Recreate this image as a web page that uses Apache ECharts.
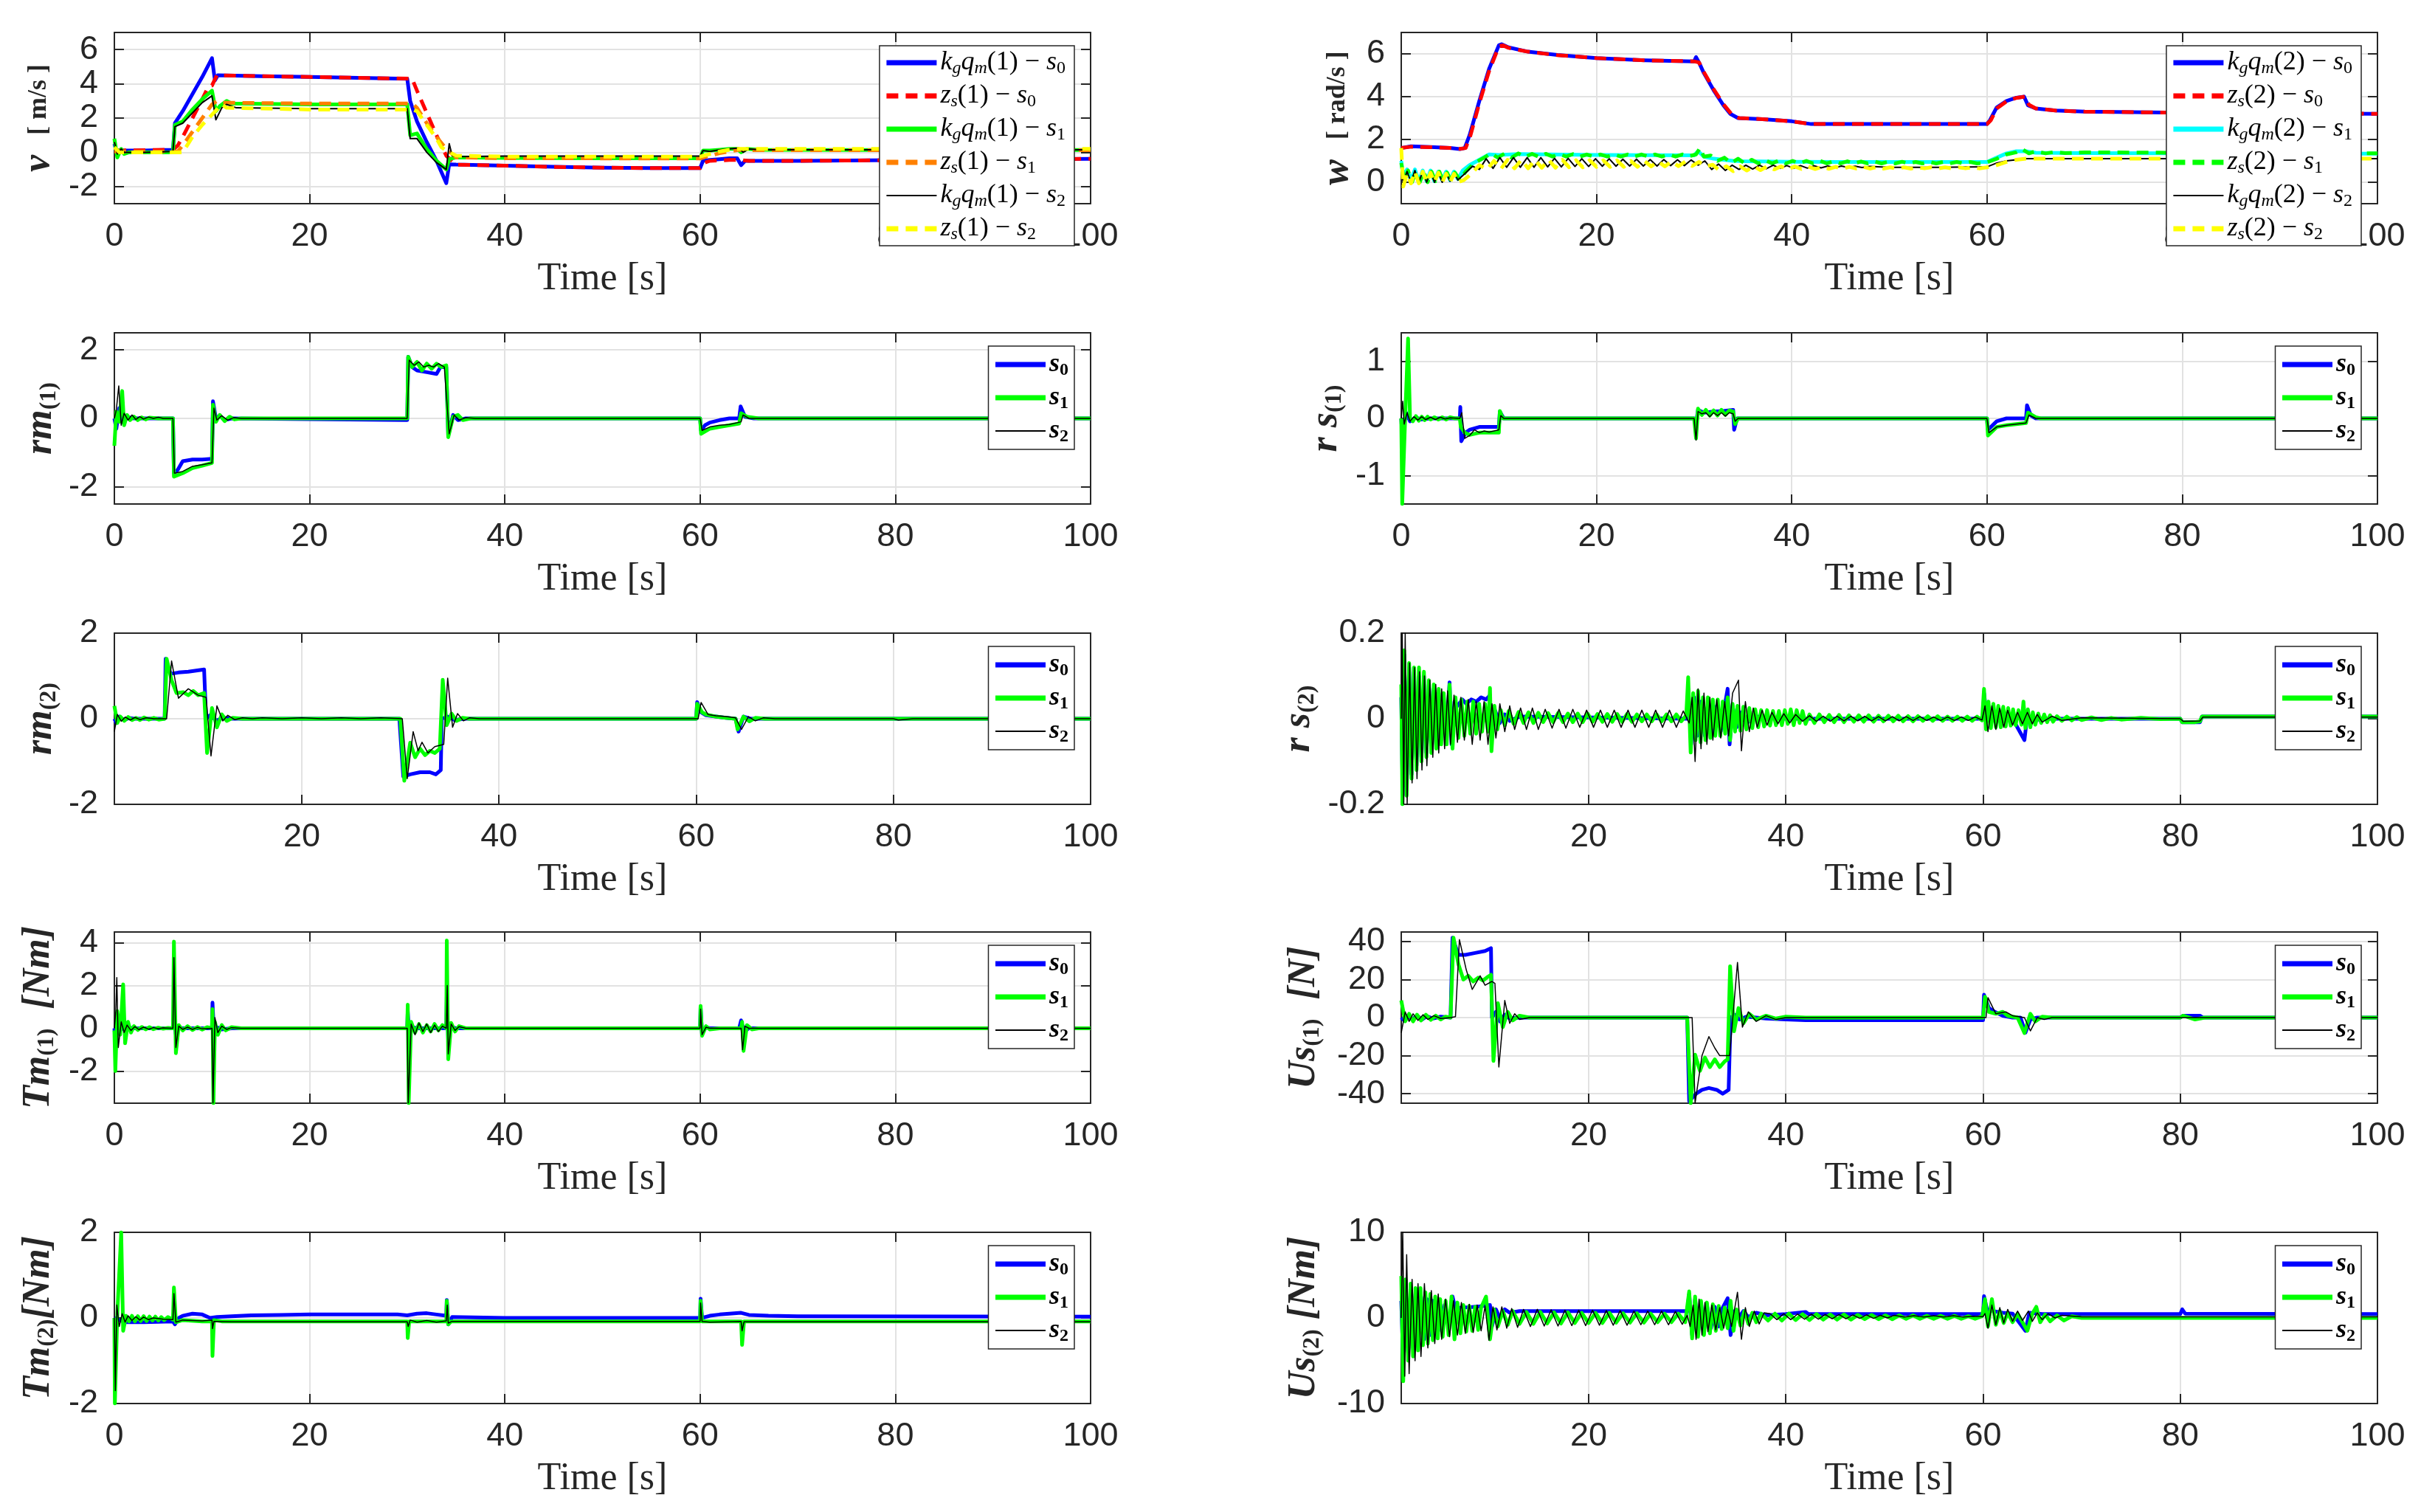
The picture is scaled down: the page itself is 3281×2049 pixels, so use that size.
<!DOCTYPE html>
<html>
<head>
<meta charset="utf-8">
<title>Vehicle response</title>
<script src="https://cdn.jsdelivr.net/npm/echarts@6/dist/echarts.min.js"></script>
<style>
  html, body { margin: 0; padding: 0; background: #fff; }
  #chart { width: 3281px; height: 2049px; }
</style>
</head>
<body>
<div id="chart"></div>
<script>
// ---- tick labels ----
const X_TICKS_FULL = [0, 20, 40, 60, 80, 100];
const X_TICKS_CUT = [20, 40, 60, 80, 100];
const V_TICKS = [-2, 0, 2, 4, 6];
const W_TICKS = [0, 2, 4, 6];
const RM_TICKS = [-2, 0, 2];
const RS1_TICKS = [-1, 0, 1];
const RS2_TICKS = [-0.2, 0, 0.2];
const TM1_TICKS = [-2, 0, 2, 4];
const US1_TICKS = [-40, -20, 0, 20, 40];
const TM2_TICKS = [-2, 0, 2];
const US2_TICKS = [-10, 0, 10];

// ---- v : linear speed ----
const vKq0 = [[0,0.5],[0.2,0.1],[1,0.1],[3,0.1],[6,0.15],[6.2,1.7],[7,2.4],[8,3.4],[9,4.4],[10,5.5],[10.3,4.2],[10.6,4.5],[15,4.45],[20,4.4],[25,4.35],[30,4.3],[30.3,3.0],[31,1.8],[32,0.6],[33,-0.5],[34,-1.8],[34.3,-0.7],[35,-0.72],[40,-0.78],[45,-0.85],[50,-0.9],[55,-0.92],[60,-0.92],[60.3,-0.5],[61,-0.45],[62,-0.4],[63,-0.35],[63.8,-0.35],[64.2,-0.75],[64.6,-0.5],[70,-0.5],[80,-0.46],[90,-0.42],[100,-0.38]];
const vZs0 = [[0,0.1],[6,0.15],[6.5,0.4],[7,0.9],[8,2.0],[9,3.1],[9.6,3.8],[10,3.9],[10.5,4.5],[15,4.45],[20,4.4],[25,4.35],[30.5,4.3],[31,3.6],[32,2.3],[33,1.0],[34,-0.2],[35,-0.72],[40,-0.78],[45,-0.85],[50,-0.9],[55,-0.92],[60,-0.92],[60.5,-0.6],[61,-0.5],[63,-0.45],[64,-0.45],[65,-0.5],[70,-0.5],[80,-0.46],[90,-0.42],[100,-0.38]];
const vKq1 = [[0,0.8],[0.3,-0.3],[0.7,0.2],[1,-0.1],[1.5,0.0],[3,0.0],[6,0.0],[6.2,1.6],[7,1.8],[8,2.5],[9,3.1],[10,3.6],[10.4,2.4],[10.8,2.7],[11.5,3.0],[12,2.85],[20,2.8],[30,2.8],[30.3,1.0],[31,1.1],[32,0.2],[33,-0.5],[34,-1.0],[34.3,-0.4],[35,-0.3],[40,-0.33],[50,-0.35],[60,-0.35],[60.3,0.1],[61,0.1],[62,0.15],[63,0.2],[63.8,0.2],[64.2,0.0],[64.8,0.2],[66,0.15],[80,0.14],[100,0.14]];
const vZs1 = [[0,0.05],[6.5,0.05],[7,0.4],[8,1.2],[9,2.0],[10,2.8],[10.5,3.0],[11,2.9],[20,2.85],[30.5,2.85],[31,2.6],[32,1.7],[33,0.9],[34,0.2],[35,-0.3],[40,-0.35],[60,-0.36],[61,-0.2],[62,-0.05],[63,0.05],[64,0.15],[66,0.12],[100,0.12]];
const vKq2 = [[0,0.6],[0.3,-0.1],[0.7,0.2],[1,0.0],[3,0.0],[6,0.05],[6.2,1.5],[7,1.7],[8,2.3],[9,2.9],[10,3.3],[10.4,1.9],[11,2.6],[11.5,2.8],[12.5,2.6],[20,2.55],[30,2.55],[30.3,0.8],[31,0.8],[32,0.0],[33,-0.6],[34,-1.0],[34.3,0.5],[34.6,-0.2],[35,-0.25],[40,-0.22],[60,-0.22],[60.3,0.1],[61,0.05],[62,0.15],[64,0.25],[64.4,0.0],[65,0.2],[66,0.15],[100,0.15]];
const vZs2 = [[0,0.3],[0.5,0.0],[7,0.0],[8,0.9],[9,1.6],[10,2.2],[11,2.8],[11.5,2.6],[20,2.5],[30.5,2.5],[31,2.4],[32,1.6],[33,0.8],[33.5,0.3],[34,0.1],[35,-0.2],[40,-0.25],[60,-0.25],[61,-0.1],[62,0.05],[63,0.15],[64,0.2],[66,0.2],[100,0.2]];

// ---- w : angular speed ----
const wKq0 = [[0,1.6],[1,1.68],[3,1.65],[5,1.6],[6,1.55],[6.5,1.6],[7,2.2],[8,3.8],[9,5.3],[10,6.4],[10.3,6.45],[11,6.3],[13,6.1],[16,5.95],[20,5.8],[25,5.7],[30,5.65],[30.2,5.85],[30.5,5.6],[31,5.1],[32,4.3],[33,3.6],[33.7,3.2],[34.5,3.0],[37,2.95],[40,2.85],[42,2.72],[50,2.72],[60,2.72],[60.3,2.9],[61,3.5],[62,3.8],[63,3.95],[63.8,4.0],[64.2,3.6],[65,3.45],[67,3.35],[70,3.3],[80,3.25],[100,3.2]];
const wZs0 = [[0,1.6],[1,1.66],[3,1.64],[5,1.6],[6,1.56],[6.6,1.6],[7.1,2.2],[8,3.7],[9,5.2],[10,6.35],[10.4,6.4],[11,6.28],[13,6.1],[16,5.94],[20,5.8],[25,5.7],[30,5.65],[30.5,5.6],[31,5.15],[32,4.35],[33,3.65],[33.8,3.2],[34.6,3.0],[37,2.95],[40,2.85],[42,2.72],[50,2.72],[60,2.72],[60.4,2.9],[61,3.45],[62,3.78],[63,3.94],[63.9,4.0],[64.3,3.62],[65,3.45],[67,3.35],[70,3.3],[80,3.25],[100,3.2]];
const wKq1 = [[0,1.0],[0.2,0.3],[0.6,0.6],[1.0,0.1],[1.4,0.6],[1.8,0.05],[2.2,0.55],[2.6,0.05],[3.0,0.55],[3.4,0.05],[3.8,0.5],[4.2,0.1],[4.6,0.5],[5.0,0.1],[5.4,0.5],[5.8,0.15],[6.3,0.55],[7,0.8],[8,1.05],[9,1.3],[10,1.28],[12,1.32],[15,1.3],[20,1.28],[25,1.27],[30,1.26],[30.4,1.45],[31,1.2],[32,1.1],[33,1.05],[34,1.0],[35,0.98],[40,0.96],[45,0.95],[50,0.95],[55,0.95],[60,0.95],[61,1.15],[62,1.35],[63,1.45],[64,1.45],[65,1.38],[70,1.36],[80,1.35],[100,1.34]];
const wZs1 = [[0,0.9],[0.3,0.1],[0.7,0.55],[1.1,0.0],[1.5,0.5],[1.9,0.0],[2.3,0.5],[2.7,0.0],[3.1,0.5],[3.5,0.05],[3.9,0.5],[4.3,0.05],[4.7,0.45],[5.1,0.05],[5.5,0.45],[6,0.1],[6.6,0.5],[7.5,0.9],[8.5,1.15],[9.2,1.35],[9.9,1.15],[10.6,1.35],[11.3,1.15],[12,1.35],[12.7,1.18],[13.4,1.33],[14.1,1.18],[14.8,1.33],[15.5,1.2],[16.2,1.32],[16.9,1.2],[17.6,1.32],[18.3,1.2],[19,1.3],[19.7,1.2],[20.4,1.3],[21.1,1.2],[21.8,1.3],[22.5,1.2],[23.2,1.3],[23.9,1.2],[24.6,1.3],[25.3,1.2],[26,1.3],[26.7,1.2],[27.4,1.3],[28.1,1.2],[28.8,1.3],[29.5,1.22],[30.2,1.3],[30.6,1.6],[31,1.2],[31.7,1.25],[32.4,1.0],[33.1,1.15],[33.8,0.9],[34.5,1.1],[35.2,0.88],[35.9,1.05],[36.6,0.88],[37.3,1.03],[38,0.88],[38.7,1.02],[39.4,0.88],[40.1,1.0],[40.8,0.88],[41.5,1.0],[42.2,0.88],[42.9,1.0],[43.6,0.88],[44.3,0.98],[45,0.88],[45.7,0.98],[46.4,0.88],[47.1,0.97],[47.8,0.88],[48.5,0.97],[49.2,0.88],[49.9,0.96],[50.6,0.88],[51.3,0.96],[52,0.88],[52.7,0.95],[53.4,0.88],[54.1,0.95],[54.8,0.88],[55.5,0.95],[56.2,0.88],[56.9,0.95],[57.6,0.88],[58.3,0.95],[59,0.88],[60,0.93],[61,1.1],[62,1.3],[63,1.4],[63.6,1.55],[64.3,1.35],[65,1.45],[66,1.35],[67,1.42],[68,1.36],[70,1.4],[80,1.38],[100,1.35]];
const wKq2 = [[0,0.5],[0.2,0.0],[0.6,0.5],[1.0,0.0],[1.4,0.55],[1.8,0.0],[2.2,0.5],[2.6,0.0],[3.0,0.5],[3.4,0.0],[3.8,0.45],[4.2,0.0],[4.6,0.45],[5.0,0.05],[5.4,0.45],[5.8,0.1],[6.5,0.4],[7.3,0.75],[8,0.6],[8.7,1.1],[9.4,0.65],[10.1,1.15],[10.8,0.7],[11.5,1.15],[12.2,0.7],[12.9,1.15],[13.6,0.7],[14.3,1.15],[15,0.72],[15.7,1.12],[16.4,0.72],[17.1,1.12],[17.8,0.74],[18.5,1.1],[19.2,0.74],[19.9,1.1],[20.6,0.75],[21.3,1.1],[22,0.75],[22.7,1.08],[23.4,0.76],[24.1,1.08],[24.8,0.76],[25.5,1.06],[26.2,0.76],[26.9,1.06],[27.6,0.78],[28.3,1.05],[29,0.78],[29.7,1.04],[30.4,0.8],[31.1,1.0],[31.8,0.6],[32.5,0.85],[33.2,0.55],[33.9,0.8],[34.6,0.6],[35.3,0.8],[36,0.62],[36.7,0.8],[37.4,0.63],[38.1,0.8],[38.8,0.65],[39.5,0.78],[40.2,0.65],[40.9,0.78],[41.6,0.66],[42.3,0.77],[43,0.67],[43.7,0.76],[44.4,0.68],[45.1,0.76],[45.8,0.69],[46.5,0.75],[47.2,0.69],[48,0.74],[50,0.7],[55,0.7],[60,0.72],[61,0.9],[62,1.0],[63,1.05],[64,1.1],[66,1.1],[100,1.1]];
const wZs2 = [[0,1.6],[0.2,-0.2],[0.6,0.4],[1.0,-0.05],[1.4,0.5],[1.8,-0.05],[2.2,0.5],[2.6,0.0],[3.0,0.45],[3.4,0.0],[3.8,0.45],[4.2,0.0],[4.6,0.4],[5.0,0.0],[5.4,0.4],[5.8,0.0],[6.4,0.1],[7.2,0.4],[8.0,0.8],[8.8,0.6],[9.5,1.0],[10.2,0.62],[10.9,1.05],[11.6,0.65],[12.3,1.05],[13.0,0.65],[13.7,1.05],[14.4,0.68],[15.1,1.05],[15.8,0.68],[16.5,1.05],[17.2,0.7],[17.9,1.03],[18.6,0.7],[19.3,1.03],[20,0.72],[20.7,1.02],[21.4,0.72],[22.1,1.02],[22.8,0.72],[23.5,1.0],[24.2,0.72],[24.9,1.0],[25.6,0.74],[26.3,0.98],[27,0.74],[27.7,0.98],[28.4,0.75],[29.1,0.97],[29.8,0.76],[30.5,0.95],[31.2,0.75],[31.9,0.82],[32.6,0.55],[33.3,0.75],[34,0.52],[34.7,0.75],[35.4,0.55],[36.1,0.75],[36.8,0.57],[37.5,0.75],[38.2,0.6],[38.9,0.74],[39.6,0.6],[40.3,0.74],[41,0.62],[41.7,0.73],[42.4,0.62],[43.1,0.72],[43.8,0.63],[44.5,0.72],[45.2,0.63],[45.9,0.72],[46.6,0.64],[47.3,0.72],[48,0.64],[48.7,0.71],[49.4,0.64],[50.1,0.7],[50.8,0.64],[51.5,0.7],[52.2,0.64],[52.9,0.7],[53.6,0.65],[54.3,0.7],[55,0.65],[55.7,0.7],[56.4,0.65],[57.1,0.7],[57.8,0.65],[58.5,0.7],[59.2,0.65],[60,0.7],[61,0.8],[62,0.95],[63,1.05],[64,1.1],[66,1.1],[100,1.1]];

// ---- rm(1) ----
const rm1S0 = [[0,0.0],[0.2,-0.3],[0.5,0.3],[0.8,-0.1],[1.2,0.05],[2,0.0],[6,0.0],[6.1,-1.6],[6.5,-1.5],[7,-1.25],[8,-1.2],[9,-1.2],[10,-1.18],[10.1,0.5],[10.4,0.0],[10.8,0.08],[11.3,-0.05],[12,0.0],[30,-0.05],[30.1,1.8],[30.5,1.5],[31,1.4],[32,1.35],[33,1.3],[33.4,1.5],[34,1.5],[34.2,-0.5],[34.7,0.1],[35.2,-0.05],[36,0.0],[60,0.0],[60.1,-0.35],[60.5,-0.2],[61,-0.12],[62,-0.05],[63,0.0],[64,0.0],[64.15,0.35],[64.6,0.05],[65.5,0.0],[100,0.0]];
const rm1S1 = [[0,-0.8],[0.2,0.2],[0.5,-0.1],[0.8,0.8],[1.0,-0.2],[1.3,0.1],[1.6,-0.05],[2,0.05],[2.4,-0.05],[2.8,0.03],[3.2,-0.03],[3.6,0.02],[4.5,0.0],[6,0.0],[6.1,-1.7],[7,-1.6],[8,-1.45],[9,-1.38],[10,-1.3],[10.1,0.4],[10.4,-0.1],[10.8,0.1],[11.3,-0.08],[11.8,0.05],[12.3,-0.03],[13,0.0],[30,0.0],[30.1,1.8],[30.5,1.5],[31,1.65],[31.5,1.4],[32,1.6],[32.5,1.45],[33,1.6],[33.5,1.5],[34,1.55],[34.2,-0.55],[34.7,0.05],[35.2,0.1],[35.7,-0.05],[36.5,0.0],[60,0.0],[60.1,-0.45],[61,-0.3],[62,-0.25],[63,-0.2],[64,-0.15],[64.2,0.15],[64.8,0.05],[66,0.0],[100,0.0]];
const rm1S2 = [[0,0.0],[0.2,0.25],[0.45,0.95],[0.7,-0.2],[1.0,0.15],[1.4,-0.05],[1.8,0.1],[2.2,-0.03],[2.6,0.05],[3,-0.02],[3.5,0.04],[4,0.0],[4.5,0.03],[5,0.0],[6,0.0],[6.15,-1.6],[7,-1.55],[8,-1.4],[9,-1.35],[10,-1.3],[10.2,0.3],[10.5,-0.05],[11,0.08],[11.6,-0.05],[12.2,0.02],[13,0.0],[30,0.0],[30.2,1.7],[30.7,1.55],[31.2,1.65],[31.7,1.5],[32.2,1.55],[32.7,1.5],[33.2,1.6],[33.8,1.5],[34.3,-0.45],[34.8,0.1],[35.3,-0.05],[36,0.02],[37,0.0],[60,0.0],[60.2,-0.35],[61,-0.25],[62,-0.2],[63,-0.18],[64.2,-0.1],[64.4,0.1],[65,0.0],[100,0.0]];

// ---- rs(1) ----
const rs1S0 = [[0,0.0],[0.1,-0.3],[0.5,0.1],[0.9,-0.05],[1.5,0.02],[2,-0.02],[3,0.0],[6,0.0],[6.05,0.2],[6.15,-0.4],[6.6,-0.25],[7,-0.2],[8,-0.15],[10,-0.15],[10.1,0.12],[10.5,0.0],[30,0.0],[30.2,-0.1],[30.4,0.15],[31,0.1],[32,0.12],[33,0.13],[34,0.15],[34.1,-0.2],[34.4,0.0],[60,0.0],[60.1,-0.2],[61,-0.05],[62,0.0],[64,0.0],[64.1,0.23],[64.5,0.05],[65,0.0],[100,0.0]];
const rs1S1 = [[0,0.0],[0.1,-1.5],[0.4,0.0],[0.7,1.4],[0.9,0.0],[1.2,-0.05],[1.5,0.04],[1.8,-0.04],[2.1,0.03],[2.4,-0.03],[2.7,0.03],[3,-0.02],[3.4,0.02],[3.8,-0.02],[4.2,0.02],[4.6,-0.02],[5,0.02],[5.5,0.0],[6,0.0],[6.1,-0.15],[6.5,-0.25],[7,-0.29],[8,-0.25],[10,-0.25],[10.1,0.13],[10.4,0.0],[30,0.0],[30.2,-0.35],[30.4,0.17],[30.8,0.06],[31.2,0.15],[31.6,0.05],[32,0.14],[32.4,0.05],[32.8,0.15],[33.2,0.06],[33.6,0.14],[34,0.12],[34.2,-0.1],[34.5,0.0],[60,0.0],[60.1,-0.3],[61,-0.15],[62,-0.12],[63,-0.1],[64,-0.08],[64.2,0.1],[65,0.02],[65.5,0.0],[100,0.0]];
const rs1S2 = [[0,0.0],[0.15,0.3],[0.3,-0.1],[0.6,0.1],[0.9,-0.05],[1.3,0.03],[1.7,-0.03],[2.1,0.03],[2.5,-0.02],[3,0.02],[3.5,-0.02],[4,0.02],[4.5,-0.01],[5,0.01],[6,0.0],[6.2,0.1],[6.5,-0.35],[7,-0.3],[7.5,-0.2],[8,-0.25],[8.5,-0.22],[9,-0.24],[10,-0.2],[10.2,0.05],[10.5,0.0],[30,0.0],[30.2,-0.38],[30.4,0.12],[30.8,0.08],[31.2,0.1],[31.6,0.03],[32,0.1],[32.4,0.05],[32.8,0.1],[33.2,0.04],[33.6,0.1],[34,0.08],[34.2,-0.05],[34.5,0.0],[60,0.0],[60.2,-0.25],[61,-0.15],[62,-0.12],[63,-0.1],[64,-0.08],[64.3,0.06],[65,0.0],[100,0.0]];

// ---- rm(2) ----
const rm2S0 = [[1,0.0],[1.2,-0.1],[1.5,0.05],[2,-0.03],[2.5,0.02],[3,0.0],[6.1,0.0],[6.2,1.4],[6.7,1.05],[7.5,1.08],[8.5,1.1],[10.1,1.15],[10.3,0.0],[10.8,0.1],[11.3,-0.05],[12,0.02],[13,0.0],[29.9,0.0],[30.3,-1.35],[31,-1.3],[32,-1.25],[33,-1.25],[33.6,-1.3],[34.1,-1.2],[34.2,0.0],[34.8,0.05],[35.5,-0.03],[36.5,0.0],[60,0.0],[60.1,0.39],[60.5,0.15],[61,0.08],[62,0.05],[63,0.02],[64,0.0],[64.3,-0.3],[64.8,0.05],[65.5,0.0],[100,0.0]];
const rm2S1 = [[1,0.3],[1.3,-0.1],[1.6,0.05],[2,-0.05],[2.4,0.04],[2.8,-0.03],[3.2,0.02],[3.6,-0.03],[4,0.03],[4.5,-0.02],[5,0.02],[5.5,-0.02],[6.1,0.0],[6.3,1.4],[6.8,0.9],[7.3,0.6],[8,0.62],[8.5,0.55],[9,0.65],[9.5,0.55],[10.1,0.6],[10.4,-0.8],[10.9,0.25],[11.4,-0.2],[11.9,0.1],[12.4,-0.05],[13,0.02],[14,0.0],[30.0,0.0],[30.4,-1.45],[31,-0.56],[31.5,-0.9],[32,-0.7],[32.5,-0.85],[33,-0.75],[33.5,-0.8],[34,-0.7],[34.3,0.91],[34.7,-0.15],[35.2,0.12],[35.7,-0.05],[36.3,0.02],[37,0.0],[60,0.0],[60.1,0.35],[60.6,0.15],[61,0.1],[62,0.05],[63,0.02],[64,0.0],[64.2,-0.25],[64.8,0.05],[65.4,-0.06],[66,0.02],[67,0.0],[100,0.0]];
const rm2S2 = [[1,-0.3],[1.3,0.1],[1.7,-0.06],[2.1,0.04],[2.6,-0.03],[3.1,0.03],[3.6,-0.02],[4.2,0.02],[5,0.0],[6.3,0.0],[6.8,1.35],[7.5,0.48],[8.5,0.7],[9.5,0.55],[10.3,0.5],[10.8,-0.87],[11.4,0.3],[12,-0.05],[12.5,0.08],[13.2,-0.02],[14,0.02],[15,0.0],[16,0.02],[18,0.0],[20,0.02],[22,0.0],[24,0.02],[26,0.0],[28,0.02],[30.2,0.0],[30.7,-1.4],[31.3,-0.3],[31.8,-0.75],[32.2,-0.55],[32.8,-0.8],[33.5,-0.65],[34.4,-0.6],[34.8,0.95],[35.3,-0.2],[35.8,0.12],[36.4,-0.05],[37,0.02],[38,0.0],[60.2,0.0],[60.5,0.38],[61.2,0.1],[62,0.07],[63,0.05],[64,0.02],[64.6,-0.25],[65.3,0.05],[66,-0.05],[66.8,0.02],[68,0.0],[80,0.0],[80.5,-0.03],[82,0.0],[100,0.0]];

// ---- rs(2) ----
const rs2S0 = [[1,0.05],[1.15,-0.18],[1.3,0.15],[1.55,-0.16],[1.8,0.12],[2.05,-0.13],[2.3,0.11],[2.55,-0.11],[2.8,0.1],[3.05,-0.09],[3.3,0.1],[3.55,-0.08],[3.8,0.08],[4.05,-0.07],[4.3,0.07],[4.55,-0.06],[4.8,0.06],[5.05,-0.05],[5.3,0.05],[5.55,-0.05],[5.9,0.085],[6.1,-0.06],[6.4,0.04],[6.7,0.03],[7.2,0.045],[7.6,0.035],[8.1,0.045],[8.6,0.04],[9.1,0.05],[9.6,0.045],[10,0.055],[10.1,-0.03],[10.5,0.02],[11,-0.01],[11.5,0.01],[12,-0.005],[13,0.005],[30,0.0],[30.1,0.07],[30.4,-0.06],[30.7,0.05],[31,-0.04],[31.4,0.04],[31.8,-0.04],[32.2,0.035],[32.6,-0.03],[33,0.03],[33.4,-0.03],[33.8,0.03],[34.1,0.07],[34.3,-0.06],[34.6,0.03],[35,-0.02],[35.5,0.015],[36,-0.01],[37,0.005],[40,0.0],[60,0.0],[60.1,0.06],[60.4,0.0],[61,0.01],[62,0.01],[63,0.0],[64.2,-0.05],[64.5,0.01],[65,-0.005],[66,0.0],[80,0.0],[80.2,-0.008],[82,-0.008],[82.2,0.005],[100,0.005]];
const rs2S1 = [[1,0.08],[1.12,-0.2],[1.3,0.16],[1.55,-0.18],[1.8,0.13],[2.05,-0.14],[2.3,0.12],[2.55,-0.12],[2.8,0.12],[3.05,-0.1],[3.3,0.11],[3.55,-0.09],[3.8,0.09],[4.05,-0.08],[4.3,0.08],[4.55,-0.07],[4.8,0.07],[5.05,-0.06],[5.3,0.06],[5.6,-0.06],[5.9,0.08],[6.2,-0.07],[6.5,0.05],[6.8,-0.045],[7.1,0.045],[7.4,-0.04],[7.7,0.04],[8.0,-0.035],[8.3,0.04],[8.6,-0.035],[8.9,0.035],[9.2,-0.03],[9.5,0.035],[9.8,-0.03],[10.0,0.072],[10.15,-0.076],[10.45,0.03],[10.75,-0.025],[11.1,0.02],[11.5,-0.015],[11.9,0.018],[12.4,-0.012],[12.9,0.016],[13.4,-0.01],[13.9,0.015],[14.4,-0.01],[14.9,0.014],[15.4,-0.008],[15.9,0.013],[16.4,-0.008],[16.9,0.013],[17.4,-0.008],[17.9,0.012],[18.4,-0.008],[18.9,0.012],[19.4,-0.008],[19.9,0.012],[20.4,-0.007],[20.9,0.011],[21.4,-0.007],[21.9,0.011],[22.4,-0.007],[22.9,0.011],[23.4,-0.007],[23.9,0.011],[24.4,-0.007],[24.9,0.01],[25.4,-0.006],[25.9,0.01],[26.4,-0.006],[26.9,0.01],[27.4,-0.006],[27.9,0.01],[28.4,-0.006],[28.9,0.01],[29.4,-0.006],[29.9,0.008],[30.1,0.097],[30.35,-0.079],[30.6,0.06],[30.85,-0.05],[31.1,0.065],[31.35,-0.055],[31.6,0.05],[31.85,-0.05],[32.1,0.05],[32.35,-0.045],[32.6,0.045],[32.85,-0.04],[33.1,0.045],[33.35,-0.04],[33.6,0.04],[33.85,-0.035],[34.1,0.05],[34.35,-0.05],[34.6,0.035],[34.85,-0.03],[35.1,0.03],[35.4,-0.028],[35.7,0.028],[36,-0.025],[36.3,0.025],[36.6,-0.022],[36.9,0.022],[37.2,-0.02],[37.5,0.02],[37.8,-0.018],[38.1,0.02],[38.4,-0.016],[38.7,0.018],[39,-0.015],[39.3,0.018],[39.6,-0.015],[39.9,0.02],[40.2,-0.012],[40.5,0.022],[40.8,-0.015],[41.1,0.02],[41.4,-0.01],[41.7,0.018],[42,-0.012],[42.4,0.01],[42.9,-0.01],[43.4,0.01],[43.9,-0.008],[44.4,0.009],[44.9,-0.008],[45.4,0.009],[45.9,-0.008],[46.4,0.008],[46.9,-0.007],[47.4,0.008],[47.9,-0.007],[48.4,0.008],[48.9,-0.007],[49.4,0.007],[49.9,-0.006],[50.4,0.007],[50.9,-0.006],[51.4,0.007],[51.9,-0.006],[52.4,0.006],[52.9,-0.006],[53.4,0.006],[53.9,-0.005],[54.4,0.006],[54.9,-0.005],[55.4,0.006],[55.9,-0.005],[56.4,0.005],[56.9,-0.005],[57.4,0.005],[57.9,-0.005],[58.4,0.005],[58.9,-0.005],[59.4,0.005],[59.9,-0.004],[60.1,0.07],[60.3,-0.025],[60.55,0.04],[60.8,-0.022],[61.05,0.035],[61.3,-0.02],[61.55,0.03],[61.8,-0.02],[62.05,0.028],[62.3,-0.018],[62.55,0.025],[62.8,-0.016],[63.05,0.022],[63.3,-0.015],[63.6,0.02],[63.9,-0.014],[64.1,0.04],[64.3,-0.022],[64.55,0.022],[64.8,-0.02],[65.05,0.015],[65.3,-0.014],[65.6,0.012],[65.9,-0.01],[66.2,0.01],[66.5,-0.008],[66.8,0.008],[67.1,-0.007],[67.5,0.006],[68,-0.005],[68.5,0.005],[69,-0.004],[69.5,0.004],[70,-0.003],[71,0.003],[72,-0.003],[73,0.002],[74,-0.002],[76,0.002],[78,-0.001],[80,0.0],[80.2,-0.008],[81.5,-0.008],[82,-0.006],[82.2,0.005],[90,0.005],[100,0.005]];
const rs2S2 = [[1,0.0],[1.1,0.2],[1.25,-0.2],[1.4,0.2],[1.6,-0.2],[1.85,0.13],[2.1,-0.15],[2.35,0.12],[2.6,-0.14],[2.85,0.11],[3.1,-0.12],[3.35,0.1],[3.6,-0.11],[3.9,0.09],[4.2,-0.09],[4.5,0.08],[4.8,-0.08],[5.1,0.07],[5.4,-0.07],[5.7,0.065],[6.0,-0.06],[6.35,0.055],[6.7,-0.055],[7.05,0.05],[7.4,-0.05],[7.8,0.045],[8.2,-0.06],[8.6,0.04],[9,-0.05],[9.4,0.04],[9.8,-0.06],[10.2,0.035],[10.6,-0.045],[11.0,0.035],[11.5,-0.03],[12,0.03],[12.5,-0.025],[13.1,0.025],[13.7,-0.025],[14.3,0.025],[14.9,-0.025],[15.6,0.022],[16.3,-0.022],[17,0.022],[17.7,-0.022],[18.4,0.022],[19.1,-0.02],[19.8,0.02],[20.5,-0.02],[21.2,0.02],[21.9,-0.02],[22.6,0.02],[23.3,-0.02],[24,0.02],[24.7,-0.02],[25.4,0.02],[26.1,-0.02],[26.8,0.02],[27.5,-0.02],[28.2,0.02],[28.9,-0.02],[29.6,0.018],[30.2,-0.01],[30.5,0.05],[30.8,-0.1],[31.1,0.07],[31.4,-0.07],[31.7,0.06],[32,-0.06],[32.3,0.05],[32.6,-0.05],[33,0.045],[33.4,-0.045],[33.8,0.04],[34.2,-0.04],[34.6,0.06],[35.2,0.09],[35.5,-0.075],[35.9,0.04],[36.3,-0.03],[36.7,0.025],[37.1,-0.02],[37.6,0.02],[38.1,-0.015],[38.6,0.015],[39.2,-0.012],[39.8,0.012],[40.4,-0.01],[41,0.01],[41.7,-0.006],[42.4,0.007],[43.1,-0.006],[43.8,0.006],[44.5,-0.006],[45.2,0.006],[45.9,-0.005],[46.6,0.006],[47.3,-0.005],[48,0.006],[48.7,-0.005],[49.4,0.005],[50.1,-0.005],[50.8,0.005],[51.5,-0.005],[52.2,0.005],[52.9,-0.004],[53.6,0.005],[54.3,-0.004],[55,0.004],[55.7,-0.004],[56.4,0.004],[57.1,-0.004],[57.8,0.004],[58.5,-0.004],[59.2,0.004],[59.9,-0.003],[60.2,0.03],[60.5,-0.03],[60.9,0.03],[61.3,-0.025],[61.7,0.025],[62.1,-0.02],[62.5,0.02],[63,-0.015],[63.5,0.015],[64,-0.012],[64.5,0.015],[65,-0.012],[65.5,0.01],[66,-0.008],[67,0.006],[68,-0.004],[70,0.002],[80,0.0],[80.3,-0.006],[82,-0.005],[82.3,0.004],[100,0.004]];

// ---- Tm(1) ----
const tm1S0 = [[0,0.0],[0.1,-0.5],[0.3,0.3],[0.6,-0.1],[1,0.05],[2,0.0],[6,0.0],[6.1,0.6],[6.3,-0.3],[6.6,0.0],[10,0.0],[10.05,1.2],[10.2,-0.2],[10.5,0.05],[11,-0.05],[12,0.0],[30,0.0],[30.05,0.8],[30.2,-0.3],[30.5,0.05],[31,0.0],[34,0.0],[34.05,1.5],[34.2,-0.5],[34.5,0.05],[35,0.0],[60,0.0],[60.05,1.0],[60.2,-0.25],[60.6,0.05],[61,0.0],[64,0.0],[64.2,0.37],[64.5,-0.15],[65,0.0],[100,0.0]];
const tm1S1 = [[0,-0.1],[0.1,-2.0],[0.3,0.8],[0.6,-0.3],[0.9,2.05],[1.1,-0.7],[1.4,0.3],[1.7,-0.2],[2,0.1],[2.4,-0.08],[2.8,0.06],[3.2,-0.05],[3.6,0.05],[4,-0.04],[4.5,0.03],[5,-0.02],[5.5,0.02],[6,0.0],[6.1,4.05],[6.3,-1.16],[6.6,0.15],[7,-0.1],[7.5,0.1],[8,-0.08],[8.5,0.06],[9,-0.06],[9.5,0.05],[10,0.0],[10.05,0.9],[10.15,-3.5],[10.3,0.3],[10.6,-0.3],[11,0.15],[11.4,-0.1],[12,0.05],[13,0.0],[30,0.0],[30.05,1.1],[30.15,-3.5],[30.4,0.3],[30.8,-0.2],[31.2,0.2],[31.6,-0.2],[32,0.15],[32.4,-0.15],[32.8,0.2],[33.2,-0.1],[33.6,0.15],[34,0.0],[34.05,4.1],[34.2,-1.45],[34.5,0.25],[34.9,-0.15],[35.3,0.1],[36,0.0],[60,0.0],[60.05,1.04],[60.2,-0.35],[60.6,0.1],[61,-0.05],[62,0.0],[64.2,0.0],[64.3,0.3],[64.45,-1.06],[64.8,0.15],[65.3,-0.05],[66,0.0],[100,0.0]];
const tm1S2 = [[0,0.0],[0.15,0.8],[0.25,2.37],[0.4,-0.9],[0.7,0.3],[1,-0.2],[1.3,0.15],[1.7,-0.1],[2.1,0.08],[2.5,-0.06],[3,0.05],[3.5,-0.04],[4,0.03],[4.5,-0.02],[5,0.02],[6,0.0],[6.1,3.3],[6.3,-0.9],[6.6,0.1],[7,-0.05],[7.5,0.05],[8,-0.05],[8.5,0.04],[9,-0.03],[10,0.0],[10.1,-3.5],[10.3,0.5],[10.6,-0.2],[11,0.1],[11.5,-0.05],[12,0.03],[13,0.0],[30,0.0],[30.1,-3.5],[30.4,0.2],[30.8,-0.3],[31.2,0.25],[31.6,-0.15],[32,0.2],[32.4,-0.2],[32.8,0.15],[33.2,-0.15],[33.6,0.1],[34,0.0],[34.1,2.0],[34.2,-1.2],[34.5,0.2],[34.9,-0.1],[35.3,0.08],[36,0.0],[60,0.0],[60.05,0.9],[60.2,-0.3],[60.6,0.05],[61,0.0],[64.2,0.0],[64.35,-1.0],[64.6,0.1],[65,0.0],[100,0.0]];

// ---- Us(1) ----
const us1S0 = [[1,0.0],[1.3,-1.5],[1.7,1.0],[2.1,-1.0],[2.6,1.0],[3.1,-1.0],[3.6,0.8],[4.2,-0.5],[5,0.5],[6,0.0],[6.2,42],[6.8,33],[7.5,33],[8.5,34],[9.5,35],[10.1,36.5],[10.2,0.0],[10.6,3.0],[11,-2.0],[11.5,1.5],[12,-0.5],[13,0.0],[30,0.0],[30.2,-44],[30.9,-40],[31.5,-38],[32.2,-37],[33,-38],[33.6,-40],[34.2,-38],[34.4,0.0],[34.8,1.5],[35.3,-1.0],[36,0.5],[37,0.0],[38,-0.5],[40,-1.0],[42,-1.4],[60,-1.4],[60.1,12],[60.6,5],[61.2,3],[62,1],[63,0.0],[63.8,0.0],[64.3,-7.9],[64.8,-1],[65.5,0.0],[80,0.0],[80.3,1.0],[82,1.0],[82.3,0.0],[100,0.0]];
const us1S1 = [[1,9],[1.4,-2],[1.8,2],[2.2,-2],[2.6,1.5],[3,-1.5],[3.5,1.5],[4,-1.2],[4.5,1.0],[5,-1.0],[5.5,0.5],[6,0.0],[6.3,42],[6.8,28],[7.3,20],[7.8,22],[8.3,19],[8.8,21],[9.3,19.5],[9.8,21.5],[10.1,22.5],[10.35,-22.8],[10.8,7.6],[11.3,-5],[11.8,3],[12.3,-1.5],[13,1],[14,0.0],[30,0.0],[30.35,-45],[30.8,-19.5],[31.3,-28],[31.8,-21],[32.3,-26],[32.8,-22],[33.3,-26],[33.8,-23],[34.1,-22],[34.35,27],[34.75,-7.2],[35.2,5],[35.7,-3],[36.3,2],[37,-1],[38,1],[39,-0.5],[40,0.5],[42,0.0],[60,0.0],[60.2,11],[60.6,3],[61.3,2],[62,3],[62.5,1],[63.5,0.0],[64.2,-8.1],[64.8,2],[65.3,-2],[66,0.5],[67,0.0],[80,0.0],[80.3,1.0],[81.5,-1.0],[82.5,0.0],[100,0.0]];
const us1S2 = [[1,-8],[1.4,3],[1.8,-2],[2.2,2],[2.7,-1.5],[3.2,1.5],[3.7,-1],[4.3,1],[5,-0.5],[6,0.0],[6.5,0.5],[6.9,41],[7.6,25],[8.2,14.8],[9,22],[9.5,17],[10.2,19],[10.5,18],[10.9,-26],[11.5,9],[12,-3],[12.5,2],[13,-1],[14,0.0],[30.5,0.0],[30.8,-45],[31.5,-20],[32.2,-10],[32.8,-16],[33.3,-20],[34.3,-20],[35.1,29],[35.6,-5],[36.2,3],[37,-2],[38,1],[39,-1],[40,0.0],[60.3,0.0],[60.5,10.5],[61.3,2],[62.3,3],[63,1],[64.2,0.0],[64.8,-7],[65.5,0.0],[66.2,-1],[67,0.0],[100,0.0]];

// ---- Tm(2) ----
const tm2S0 = [[0,0.0],[0.5,-0.05],[1.2,-0.1],[3,-0.1],[6,-0.08],[6.2,-0.15],[6.6,0.0],[7,0.05],[8,0.1],[9,0.08],[9.8,0.0],[10.5,0.02],[12,0.04],[14,0.06],[17,0.07],[20,0.08],[25,0.08],[29,0.08],[30,0.06],[31,0.1],[32,0.11],[33,0.08],[34,0.05],[34.05,0.42],[34.2,-0.15],[34.6,0.02],[40,0.0],[60,0.0],[60.05,0.45],[60.2,0.0],[61,0.05],[62,0.08],[63,0.1],[64.2,0.12],[65,0.07],[67,0.05],[70,0.04],[100,0.03]];
const tm2S1 = [[0,0.0],[0.05,-2.0],[0.3,0.1],[0.7,2.0],[0.9,-0.3],[1.2,0.05],[1.5,-0.08],[1.8,0.05],[2.1,-0.08],[2.4,0.04],[2.7,-0.07],[3,0.04],[3.3,-0.07],[3.6,0.03],[3.9,-0.06],[4.2,0.03],[4.5,-0.06],[4.8,0.02],[5.1,-0.05],[5.5,0.02],[6,-0.04],[6.1,0.71],[6.3,-0.1],[7,-0.05],[9,-0.08],[10,-0.08],[10.05,-0.89],[10.2,-0.05],[11,-0.08],[30,-0.08],[30.05,-0.47],[30.2,-0.08],[34,-0.08],[34.05,0.4],[34.2,-0.15],[34.5,-0.08],[60,-0.08],[60.05,0.4],[60.2,-0.08],[64.2,-0.08],[64.3,-0.63],[64.5,-0.08],[100,-0.08]];
const tm2S2 = [[0,0.0],[0.1,-1.7],[0.25,0.3],[0.5,-0.2],[0.8,0.1],[1.1,-0.1],[1.4,0.05],[1.8,-0.06],[2.2,0.03],[2.6,-0.05],[3,0.02],[3.5,-0.04],[4,0.0],[5,-0.03],[6,-0.04],[6.1,0.57],[6.3,-0.1],[7,-0.05],[8,-0.06],[9,-0.07],[10,-0.05],[10.05,-0.25],[10.2,-0.08],[12,-0.09],[30,-0.09],[30.1,-0.2],[30.3,-0.05],[31,-0.1],[32,-0.06],[33,-0.1],[34,-0.07],[34.1,0.3],[34.2,-0.12],[34.6,-0.08],[60,-0.08],[60.05,0.35],[60.2,-0.08],[61,-0.1],[64.2,-0.08],[64.3,-0.3],[64.5,-0.09],[100,-0.09]];

// ---- Us(2) ----
const us2S0 = [[1,2],[1.2,-5],[1.45,3.5],[1.7,-4],[1.95,3],[2.2,-3.5],[2.45,2.8],[2.7,-3],[3,2.5],[3.3,-2.5],[3.6,2.2],[3.9,-2],[4.2,2],[4.5,-1.8],[4.8,1.8],[5.1,-1.5],[5.4,1.5],[5.8,-1.2],[6.2,2.5],[6.5,1.0],[7,1.2],[8,1.25],[9,1.35],[10,1.5],[10.2,-1.0],[10.6,1.0],[11,0.0],[11.5,1.0],[12,0.6],[13,0.8],[30,0.8],[30.2,2.8],[30.5,-2],[30.8,2.2],[31.1,-1.8],[31.4,1.8],[31.7,-1.5],[32,1.5],[32.4,-1.2],[32.8,1.3],[33.2,-1.0],[33.6,1.2],[34.1,2.3],[34.4,-2.0],[34.8,0.8],[35.2,0.0],[35.7,0.8],[36.2,0.1],[37,0.6],[38,0.3],[40,0.45],[42,0.7],[42.3,0.45],[60,0.45],[60.1,2.55],[60.4,1.0],[61,0.8],[62,0.6],[63,0.5],[64.3,-1.5],[64.7,0.6],[66,0.45],[80,0.45],[80.2,1.0],[80.5,0.5],[100,0.45]];
const us2S1 = [[1,4.9],[1.2,-7.4],[1.45,4.5],[1.7,-5],[1.95,4],[2.2,-4.5],[2.45,3.5],[2.7,-3.8],[2.95,3.5],[3.2,-3.2],[3.45,3],[3.7,-3],[3.95,2.8],[4.2,-2.6],[4.45,2.5],[4.7,-2.4],[4.95,2.2],[5.2,-2.2],[5.5,2.0],[5.8,-2.0],[6.1,2.5],[6.4,-2.5],[6.7,1.8],[7.0,-1.8],[7.3,1.5],[7.6,-1.6],[7.9,1.4],[8.2,-1.5],[8.5,1.3],[8.8,-1.4],[9.1,1.2],[9.6,2.5],[10,-2.5],[10.4,1.0],[10.8,-1.0],[11.3,0.8],[11.8,-0.8],[12.3,0.8],[13,-0.7],[13.7,0.7],[14.4,-0.7],[15.1,0.7],[15.8,-0.65],[16.5,0.65],[17.2,-0.65],[17.9,0.65],[18.6,-0.6],[19.3,0.6],[20,-0.6],[20.7,0.6],[21.4,-0.6],[22.1,0.6],[22.8,-0.55],[23.5,0.55],[24.2,-0.55],[24.9,0.55],[25.6,-0.55],[26.3,0.5],[27,-0.5],[27.7,0.5],[28.4,-0.5],[29.1,0.5],[29.8,-0.5],[30.2,3.1],[30.5,-2.4],[30.8,2.5],[31.1,-2.2],[31.4,2.0],[31.7,-2.0],[32,1.8],[32.3,-1.8],[32.6,1.6],[32.9,-1.5],[33.2,1.4],[33.5,-1.3],[33.8,1.2],[34.1,-1.2],[34.4,2.0],[34.7,-1.5],[35,1.0],[35.4,-0.9],[35.8,0.8],[36.2,-0.7],[36.6,0.6],[37,-0.5],[37.5,0.5],[38.2,-0.3],[38.9,0.5],[39.6,-0.3],[40.3,0.5],[41,-0.25],[41.7,0.45],[42.4,-0.25],[43.1,0.45],[43.8,-0.2],[44.5,0.4],[45.2,-0.2],[45.9,0.4],[46.6,-0.2],[47.3,0.35],[48,-0.15],[48.7,0.35],[49.4,-0.15],[50.1,0.3],[50.8,-0.15],[51.5,0.3],[52.2,-0.1],[52.9,0.3],[53.6,-0.1],[54.3,0.25],[55,-0.1],[55.7,0.25],[56.4,-0.1],[57.1,0.25],[57.8,-0.1],[58.5,0.2],[59.2,-0.1],[59.9,0.2],[60.2,2.2],[60.5,-1.0],[60.9,2.2],[61.3,-0.8],[61.7,0.8],[62.1,-0.6],[62.5,0.6],[63,-0.5],[63.5,0.5],[64,-0.5],[64.5,-1.5],[65,0.5],[65.4,1.3],[65.8,-0.5],[66.3,0.4],[66.8,-0.4],[67.5,0.3],[68.2,-0.3],[69,0.2],[70,0.0],[100,0.0]];
const us2S2 = [[1,0],[1.15,10],[1.35,-6.8],[1.55,7.4],[1.8,-6.5],[2.1,4.5],[2.4,-5],[2.7,4],[3.0,-4.5],[3.35,4],[3.7,-3.5],[4.05,3.2],[4.4,-3],[4.75,2.8],[5.1,-2.5],[5.5,2.2],[5.9,-2.2],[6.3,2.0],[6.7,-2.0],[7.1,1.8],[7.5,-1.8],[7.9,1.6],[8.3,-1.7],[8.7,1.5],[9.1,-1.5],[9.5,1.4],[9.9,-2.6],[10.3,1.3],[10.7,-1.4],[11.2,1.3],[11.7,-1.2],[12.2,1.1],[12.8,-1.1],[13.4,1.0],[14.1,-1.0],[14.8,1.0],[15.5,-0.95],[16.2,0.95],[16.9,-0.95],[17.6,0.9],[18.3,-0.9],[19,0.9],[19.7,-0.9],[20.4,0.9],[21.1,-0.85],[21.8,0.85],[22.5,-0.85],[23.2,0.85],[23.9,-0.85],[24.6,0.8],[25.3,-0.8],[26,0.8],[26.7,-0.8],[27.4,0.8],[28.1,-0.8],[28.8,0.75],[29.5,-0.75],[30,0.3],[30.3,-1],[30.6,1.5],[30.9,-2.5],[31.2,2.2],[31.5,-2.0],[31.8,1.8],[32.1,-1.6],[32.5,1.5],[32.9,-1.4],[33.3,1.2],[33.7,-1.2],[34.1,1.0],[34.5,-1.0],[35.1,3],[35.5,-2.5],[35.9,1.2],[36.3,-1.0],[36.8,0.8],[37.3,-0.7],[37.8,0.6],[38.4,0.5],[39.1,-0.2],[39.8,0.5],[40.5,-0.2],[41.2,0.45],[41.9,-0.15],[42.6,0.45],[43.3,-0.15],[44,0.4],[44.7,-0.1],[45.4,0.4],[46.1,-0.1],[46.8,0.35],[47.5,-0.05],[48.2,0.35],[48.9,-0.05],[49.6,0.3],[50.3,0.0],[51,0.3],[52,0.1],[53,0.25],[54,0.1],[55,0.25],[56,0.1],[57,0.25],[58,0.1],[59,0.2],[60,0.15],[60.2,0.5],[60.5,-1.2],[60.9,1.5],[61.3,-0.8],[61.7,1.2],[62.1,-0.6],[62.5,1.0],[63,-0.4],[63.5,0.8],[64,-0.3],[64.6,0.8],[65,-0.4],[65.5,0.6],[66,-0.2],[66.6,0.5],[67.3,0.0],[68,0.3],[70,0.12],[100,0.12]];

// ---- styling ----
const INK = '#262626';
const GRID_C = '#e2e2e2';
const SANS = '"Liberation Sans", Arial, Helvetica, sans-serif';
const SERIF = '"Liberation Serif", "DejaVu Serif", serif';
const BLUE = '#0000ff', RED = '#ff0000', GREEN = '#00ff00', ORANGE = '#ff8000',
      BLACK = '#000000', YELLOW = '#ffff00', CYAN = '#00ffff';
const DASH = [16, 10];

const ROW_TOP = [44, 451, 858, 1263, 1670];
const COL_LEFT = [155, 1899];
const PLOT_W = 1323, PLOT_H = 232;

const LEGEND_TEXT = {
  'kq1-s0': '{i|k}{si|g}{i|q}{si|m}{n|(1) − }{i|s}{sd|0}',
  'zs1-s0': '{i|z}{si|s}{n|(1) − }{i|s}{sd|0}',
  'kq1-s1': '{i|k}{si|g}{i|q}{si|m}{n|(1) − }{i|s}{sd|1}',
  'zs1-s1': '{i|z}{si|s}{n|(1) − }{i|s}{sd|1}',
  'kq1-s2': '{i|k}{si|g}{i|q}{si|m}{n|(1) − }{i|s}{sd|2}',
  'zs1-s2': '{i|z}{si|s}{n|(1) − }{i|s}{sd|2}',
  'kq2-s0': '{i|k}{si|g}{i|q}{si|m}{n|(2) − }{i|s}{sd|0}',
  'zs2-s0': '{i|z}{si|s}{n|(2) − }{i|s}{sd|0}',
  'kq2-s1': '{i|k}{si|g}{i|q}{si|m}{n|(2) − }{i|s}{sd|1}',
  'zs2-s1': '{i|z}{si|s}{n|(2) − }{i|s}{sd|1}',
  'kq2-s2': '{i|k}{si|g}{i|q}{si|m}{n|(2) − }{i|s}{sd|2}',
  'zs2-s2': '{i|z}{si|s}{n|(2) − }{i|s}{sd|2}',
  's0': '{b|s}{bd|0}',
  's1': '{b|s}{bd|1}',
  's2': '{b|s}{bd|2}'
};

function S(name, data, color, width, dashed) {
  return { name, data, color, width, dashed: !!dashed };
}
function threeSeries(a, b, c) {
  return [S('s0', a, BLUE, 5), S('s1', b, GREEN, 5), S('s2', c, BLACK, 1.5)];
}

const panels = [
  { xMin: 0, yMin: -3, yMax: 7, yTicks: V_TICKS, xTicks: X_TICKS_FULL, nameGap: 74, big: true,
    yName: '{i|v}{u|   [ m/s ]}',
    series: [S('kq1-s0', vKq0, BLUE, 5), S('zs1-s0', vZs0, RED, 5, true), S('kq1-s1', vKq1, GREEN, 5),
             S('zs1-s1', vZs1, ORANGE, 5, true), S('kq1-s2', vKq2, BLACK, 2), S('zs1-s2', vZs2, YELLOW, 5, true)] },
  { xMin: 0, yMin: -1, yMax: 7, yTicks: W_TICKS, xTicks: X_TICKS_FULL, nameGap: 58, big: true,
    yName: '{i|w}{u|   [ rad/s ]}',
    series: [S('kq2-s0', wKq0, BLUE, 5), S('zs2-s0', wZs0, RED, 5, true), S('kq2-s1', wKq1, CYAN, 5),
             S('zs2-s1', wZs1, GREEN, 5, true), S('kq2-s2', wKq2, BLACK, 2), S('zs2-s2', wZs2, YELLOW, 5, true)] },
  { xMin: 0, yMin: -2.5, yMax: 2.5, yTicks: RM_TICKS, xTicks: X_TICKS_FULL, nameGap: 71,
    yName: '{i|rm}{s|(1)}', series: threeSeries(rm1S0, rm1S1, rm1S2) },
  { xMin: 0, yMin: -1.5, yMax: 1.5, yTicks: RS1_TICKS, xTicks: X_TICKS_FULL, nameGap: 73,
    yName: '{i|r s}{s|(1)}', series: threeSeries(rs1S0, rs1S1, rs1S2) },
  { xMin: 1, yMin: -2, yMax: 2, yTicks: RM_TICKS, xTicks: X_TICKS_CUT, nameGap: 71,
    yName: '{i|rm}{s|(2)}', series: threeSeries(rm2S0, rm2S1, rm2S2) },
  { xMin: 1, yMin: -0.2, yMax: 0.2, yTicks: RS2_TICKS, xTicks: X_TICKS_CUT, nameGap: 110,
    yName: '{i|r s}{s|(2)}', series: threeSeries(rs2S0, rs2S1, rs2S2) },
  { xMin: 0, yMin: -3.5, yMax: 4.5, yTicks: TM1_TICKS, xTicks: X_TICKS_FULL, nameGap: 74,
    yName: '{i|Tm}{s|(1)}{i|  [Nm]}', series: threeSeries(tm1S0, tm1S1, tm1S2) },
  { xMin: 1, yMin: -45, yMax: 45, yTicks: US1_TICKS, xTicks: X_TICKS_CUT, nameGap: 103,
    yName: '{i|Us}{s|(1)}{i|  [N]}', series: threeSeries(us1S0, us1S1, us1S2) },
  { xMin: 0, yMin: -2, yMax: 2, yTicks: TM2_TICKS, xTicks: X_TICKS_FULL, nameGap: 74,
    yName: '{i|Tm}{s|(2)}{i|[Nm]}', series: threeSeries(tm2S0, tm2S1, tm2S2) },
  { xMin: 1, yMin: -10, yMax: 10, yTicks: US2_TICKS, xTicks: X_TICKS_CUT, nameGap: 103,
    yName: '{i|Us}{s|(2)}{i| [Nm]}', series: threeSeries(us2S0, us2S1, us2S2) }
];

const tickStyle = { color: INK, width: 2 };
const labelStyle = { fontFamily: SANS, fontSize: 45, color: INK };
const nameRich = {
  i: { fontFamily: SERIF, fontStyle: 'italic', fontWeight: 'bold', fontSize: 52, lineHeight: 56, color: INK },
  s: { fontFamily: SERIF, fontWeight: 'bold', fontSize: 32, lineHeight: 32, padding: [22, 0, 0, 0], color: INK },
  u: { fontFamily: SERIF, fontWeight: 'bold', fontSize: 36, lineHeight: 56, color: INK }
};
const legendRich = {
  i: { fontFamily: SERIF, fontStyle: 'italic', fontSize: 36, lineHeight: 36, color: '#000' },
  n: { fontFamily: SERIF, fontSize: 36, lineHeight: 36, color: '#000' },
  si: { fontFamily: SERIF, fontStyle: 'italic', fontSize: 24, lineHeight: 24, padding: [16, 0, 0, 0], color: '#000' },
  sd: { fontFamily: SERIF, fontSize: 24, lineHeight: 24, padding: [16, 0, 0, 0], color: '#000' },
  b: { fontFamily: SERIF, fontStyle: 'italic', fontWeight: 'bold', fontSize: 36, lineHeight: 36, color: '#000' },
  bd: { fontFamily: SERIF, fontWeight: 'bold', fontSize: 24, lineHeight: 24, padding: [16, 0, 0, 0], color: '#000' }
};

const grid = [], xAxis = [], yAxis = [], series = [], legend = [];
panels.forEach((p, i) => {
  const row = Math.floor(i / 2), col = i % 2;
  grid.push({ left: COL_LEFT[col], top: ROW_TOP[row], width: PLOT_W, height: PLOT_H });

  const xBase = { gridIndex: i, type: 'value', min: p.xMin, max: 100,
    axisLine: { onZero: false, lineStyle: tickStyle } };
  xAxis.push(Object.assign({}, xBase, {
    position: 'bottom',
    axisTick: { inside: true, length: 13, customValues: p.xTicks, lineStyle: tickStyle },
    axisLabel: Object.assign({ customValues: p.xTicks, margin: 22 }, labelStyle),
    splitLine: { show: true, lineStyle: { color: GRID_C, width: 2 } },
    name: 'Time [s]', nameLocation: 'middle', nameGap: 76,
    nameTextStyle: { fontFamily: SERIF, fontSize: 52, color: INK }
  }));
  xAxis.push(Object.assign({}, xBase, {
    position: 'top',
    axisTick: { inside: true, length: 13, customValues: p.xTicks, lineStyle: tickStyle },
    axisLabel: { show: false }, splitLine: { show: false }
  }));

  const yBase = { gridIndex: i, type: 'value', min: p.yMin, max: p.yMax,
    axisLine: { onZero: false, lineStyle: tickStyle } };
  yAxis.push(Object.assign({}, yBase, {
    position: 'left',
    axisTick: { inside: true, length: 13, customValues: p.yTicks, lineStyle: tickStyle },
    axisLabel: Object.assign({ customValues: p.yTicks, margin: 22 }, labelStyle),
    splitLine: { show: true, lineStyle: { color: GRID_C, width: 2 } },
    name: p.yName, nameLocation: 'middle', nameGap: p.nameGap, nameRotate: 90,
    nameTextStyle: { rich: nameRich }
  }));
  yAxis.push(Object.assign({}, yBase, {
    position: 'right',
    axisTick: { inside: true, length: 13, customValues: p.yTicks, lineStyle: tickStyle },
    axisLabel: { show: false }, splitLine: { show: false }
  }));

  p.series.forEach(s => {
    series.push({
      type: 'line', name: s.name, data: s.data,
      xAxisIndex: 2 * i, yAxisIndex: 2 * i,
      symbol: 'none', showSymbol: false, silent: true, clip: true,
      color: s.color,
      lineStyle: { color: s.color, width: s.width, type: s.dashed ? DASH : 'solid', cap: 'butt', join: 'round' }
    });
  });

  const rightPx = col === 0 ? 3281 - 1456 : 3281 - 3200;
  legend.push({
    orient: 'vertical',
    right: rightPx,
    top: p.big ? 62 : ROW_TOP[row] + 18,
    backgroundColor: '#ffffff',
    borderColor: INK, borderWidth: 1.5, borderRadius: 0,
    padding: p.big ? [3, 12, 3, 6] : [5, 8, 5, 6],
    itemWidth: 68, itemHeight: 20, itemGap: 5,
    selectedMode: false,
    data: p.series.map(s => ({
      name: s.name,
      itemStyle: { opacity: 0, borderWidth: 0 },
      lineStyle: { width: s.width >= 5 ? 7 : 2, type: s.dashed ? DASH : 'solid', color: s.color }
    })),
    formatter: name => LEGEND_TEXT[name],
    textStyle: { rich: legendRich }
  });
});

const chart = echarts.init(document.getElementById('chart'), null, { renderer: 'canvas' });
chart.setOption({
  animation: false,
  backgroundColor: '#ffffff',
  grid, xAxis, yAxis, series, legend
});
</script>
</body>
</html>
